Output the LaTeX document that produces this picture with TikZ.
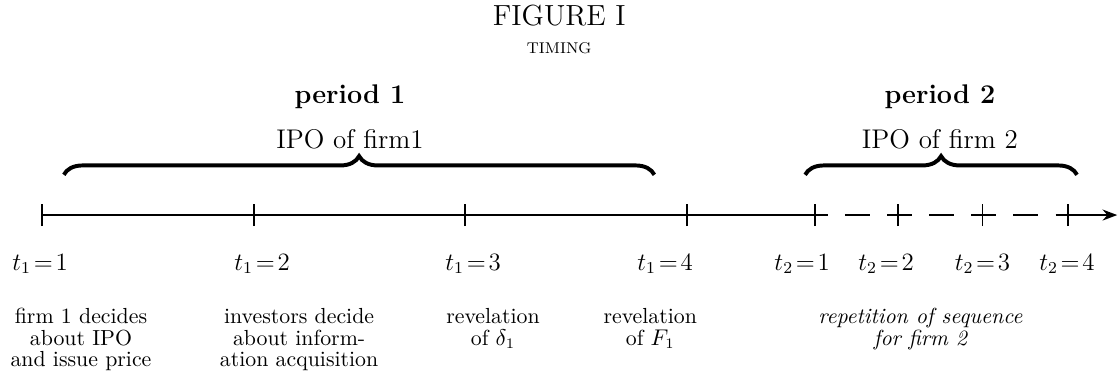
\documentclass[tikz,border=0pt]{standalone}
\usetikzlibrary{positioning,arrows.meta,decorations.pathreplacing}

\begin{document}
\begin{tikzpicture}[
    >=Stealth,
    axis/.style={line width=0.9pt},
    tick/.style={line width=0.9pt},
    bracestyle/.style={decorate, decoration={brace, amplitude=9pt}, line width=1.9pt},
    heading/.style={font=\fontsize{13}{15}\selectfont\bfseries, anchor=base},
    firmlabel/.style={font=\fontsize{13}{15}\selectfont, anchor=base},
    tlabel/.style={font=\large, anchor=base},
    event/.style={font=\fontsize{10.5}{10.3}\selectfont, align=center, anchor=north, inner sep=0pt},
    eventit/.style={event, font=\fontsize{10.5}{10.3}\selectfont\itshape},
  ]
  \useasboundingbox (0,0) rectangle (18.93,6.447);

  % ============================================================
  % Title
  % ============================================================
  \node[font=\fontsize{14}{16}\selectfont, anchor=base] (title) at (9.46, 6.01) {FIGURE I};
  \node[font=\fontsize{7.5}{9}\selectfont, anchor=base] (subtitle) at (9.46, 5.55) {TIMING};

  % ============================================================
  % Periods and braces
  % ============================================================
  \node[heading] (per1) at (5.92, 4.70) {period 1};
  \node[firmlabel] (ipo1) at (5.92, 3.94) {IPO of firm1};
  \node[heading] (per2) at (15.90, 4.70) {period 2};
  \node[firmlabel] (ipo2) at (15.90, 3.94) {IPO of firm 2};

  \coordinate (br1l) at (1.08, 3.49);
  \coordinate (br1r) at (11.07, 3.49);
  \coordinate (br2l) at (13.62, 3.49);
  \coordinate (br2r) at (18.22, 3.49);
  \draw[bracestyle] (br1l) -- (br1r);
  \draw[bracestyle] (br2l) -- (br2r);

  % ============================================================
  % Time line
  % ============================================================
  \foreach \n/\x in {t11/0.711, t12/4.298, t13/7.868, t14/11.624,
                     t21/13.79, t22/15.19, t23/16.62, t24/18.07} {
    \coordinate (\n) at (\x, 2.809);
  }
  \coordinate (tend) at (18.90, 2.809);

  \draw[axis] (t11) -- (t21);
  \draw[axis, dash pattern=on 0.42cm off 0.293cm, dash phase=0.21cm] (t21) -- (t24);
  \draw[axis, ->] (t24) -- (tend);

  \foreach \n in {t11, t12, t13, t14, t21, t22, t23, t24} {
    \draw[tick] ([yshift=-0.186cm]\n) -- ([yshift=0.186cm]\n);
  }

  % dates
  \node[tlabel] (l11) at (0.677, 1.878) {$t_1\!=\!1$};
  \node[tlabel] (l12) at (4.433, 1.878) {$t_1\!=\!2$};
  \node[tlabel] (l13) at (8.003, 1.878) {$t_1\!=\!3$};
  \node[tlabel] (l14) at (11.25, 1.878) {$t_1\!=\!4$};
  \node[tlabel] (l21) at (13.57, 1.878) {$t_2\!=\!1$};
  \node[tlabel] (l22) at (14.99, 1.878) {$t_2\!=\!2$};
  \node[tlabel] (l23) at (16.62, 1.878) {$t_2\!=\!3$};
  \node[tlabel] (l24) at (18.05, 1.878) {$t_2\!=\!4$};

  % ============================================================
  % Events
  % ============================================================
  \node[event] (ev1) at (1.37, 1.235) {firm 1 decides\\about IPO\\and issue price};
  \node[event] (ev2) at (5.06, 1.235) {investors decide\\about inform-\\ation acquisition};
  \node[event] (ev3) at (8.34, 1.235) {revelation\\of $\delta_1$};
  \node[event] (ev4) at (11.00, 1.235) {revelation\\of $F_1$};
  \node[eventit] (ev5) at (15.57, 1.235) {repetition of sequence\\for firm 2};

\end{tikzpicture}
\end{document}
